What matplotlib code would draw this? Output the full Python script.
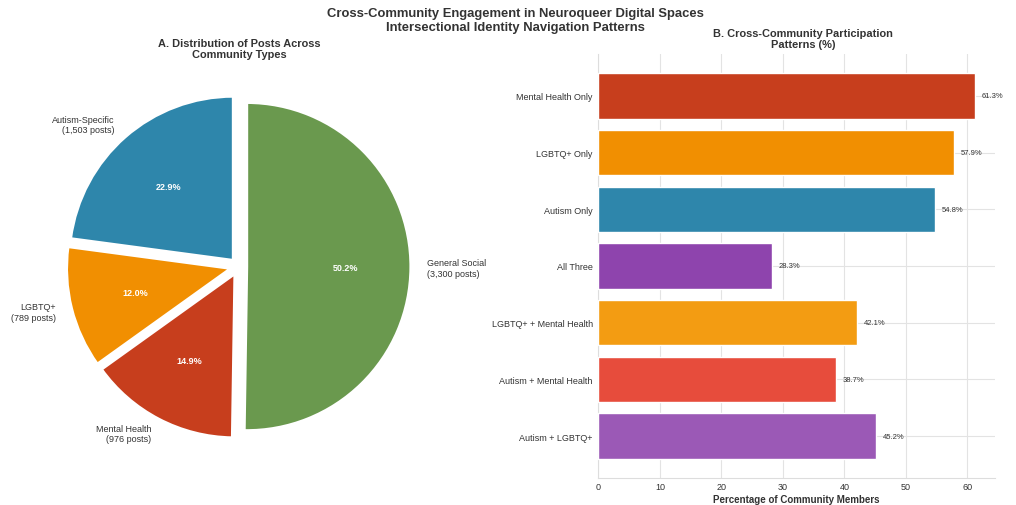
import matplotlib
matplotlib.use("Agg")
import matplotlib.pyplot as plt

plt.rcParams['font.family'] = ['Liberation Sans', 'DejaVu Sans']

# Pie data
pie_labels = ["Autism-Specific", "LGBTQ+", "Mental Health", "General Social"]
pie_posts = [1503, 789, 976, 3300]
pie_colors = ["#2E86AB", "#F18F01", "#C73E1D", "#6A994E"]

# Bar data (top to bottom)
bar_categories = ["Mental Health Only", "LGBTQ+ Only", "Autism Only", "All Three",
                  "LGBTQ+ + Mental Health", "Autism + Mental Health", "Autism + LGBTQ+"]
bar_values = [61.3, 57.9, 54.8, 28.3, 42.1, 38.7, 45.2]
bar_colors = ["#C73E1D", "#F18F01", "#2E86AB", "#8E44AD", "#F39C12", "#E74C3C", "#9B59B6"]

txt = "#333333"
fig = plt.figure(figsize=(10.16, 5.06), dpi=100)

# ---- Pie ----
ax1 = fig.add_axes([0.0331, 0.0662, 0.4035, 0.8103])
labels_full = [f"{l}\n({p:,} posts)" for l, p in zip(pie_labels, pie_posts)]
wedges, texts, autotexts = ax1.pie(
    pie_posts, labels=labels_full, colors=pie_colors, startangle=90,
    explode=[0.05] * len(pie_posts), autopct='%1.1f%%', pctdistance=0.6,
    labeldistance=1.1, wedgeprops=dict(edgecolor='white', linewidth=2),
    textprops=dict(fontsize=6.5, color=txt))
for t in autotexts:
    t.set_color('white')
    t.set_fontweight('bold')
    t.set_fontsize(6.5)
ax1.set_xlim(-1.25, 1.25)
ax1.set_ylim(-1.25, 1.25)
ax1.set_aspect('equal')
fig.text(239 / 1016, 1 - 49.5 / 506, "A. Distribution of Posts Across\nCommunity Types",
         ha='center', va='center', fontsize=7.9, fontweight='bold', color=txt,
         linespacing=1.1)

# ---- Bars ----
ax2 = fig.add_axes([0.5889, 0.0534, 0.3904, 0.838])
ypos = list(range(len(bar_categories)))
bars = ax2.barh(ypos, bar_values, color=bar_colors, height=0.8,
                edgecolor='white', linewidth=1, zorder=3)
ax2.set_yticks(ypos)
ax2.set_yticklabels(bar_categories)
ax2.invert_yaxis()
ax2.set_xlim(0, max(bar_values) * 1.052)
ax2.set_xticks([0, 10, 20, 30, 40, 50, 60])
ax2.grid(True, color='#e3e3e3', linewidth=0.8, zorder=0)
ax2.set_axisbelow(True)
for s in ['top', 'right']:
    ax2.spines[s].set_visible(False)
for s in ['left', 'bottom']:
    ax2.spines[s].set_color('#dddddd')
    ax2.spines[s].set_linewidth(0.8)
ax2.tick_params(axis='both', length=0, labelsize=6.5, labelcolor=txt, pad=4)
ax2.tick_params(axis='x', pad=3)
for b, v in zip(bars, bar_values):
    ax2.text(v + 1, b.get_y() + b.get_height() / 2, f"{v}%", va='center', ha='left',
             fontsize=5.5, color=txt)
ax2.set_xlabel("Percentage of Community Members", fontsize=7, fontweight='bold',
               color=txt, labelpad=2)
fig.text(803 / 1016, 1 - 39.5 / 506, "B. Cross-Community Participation\nPatterns (%)",
         ha='center', va='center', fontsize=7.9, fontweight='bold', color=txt,
         linespacing=1.1)

fig.text(515 / 1016, 1 - 21 / 506,
         "Cross-Community Engagement in Neuroqueer Digital Spaces\nIntersectional Identity Navigation Patterns",
         ha='center', va='center', fontsize=9.4, fontweight='bold', color=txt,
         linespacing=1.32)

fig.savefig("out.png", dpi=100, facecolor='white')
